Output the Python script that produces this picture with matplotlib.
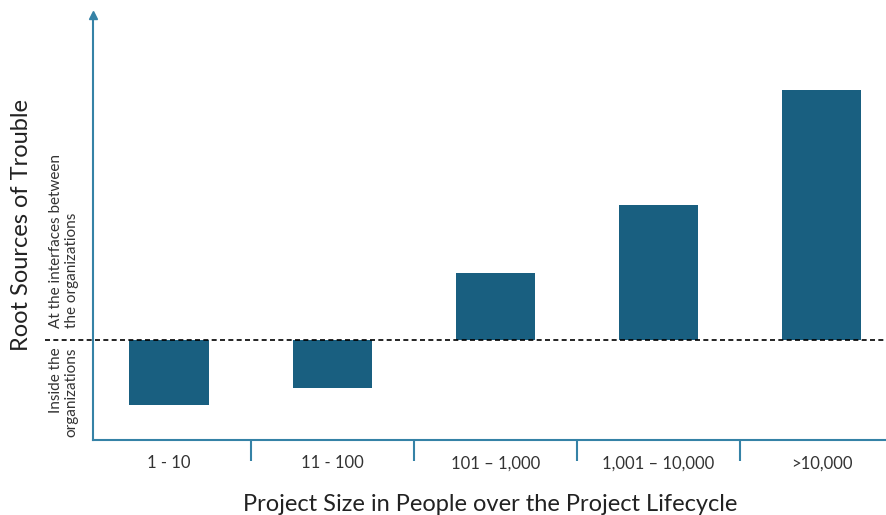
import matplotlib
matplotlib.use('Agg')
import matplotlib.pyplot as plt

# categorias y valores (relativos a la linea punteada)
categories = ['1 - 10', '11 - 100', '101 – 1,000', '1,001 – 10,000', '>10,000']
values = [-65, -48, 67, 135, 250]

bar_color = '#195f80'
axis_color = '#3582a6'

plt.rcParams['font.family'] = ['Lato', 'DejaVu Sans']

fig = plt.figure(figsize=(8.87, 5.15), dpi=100)
ax = fig.add_axes([0.1048, 0.1456, 0.8952, 0.825])

x = range(len(categories))
ax.bar(x, values, width=0.485, color=bar_color, zorder=2)
ax.set_xlim(-0.466, 4.40)
ax.set_ylim(-100, 325)

# ejes
for s in ['top', 'right']:
    ax.spines[s].set_visible(False)
ax.spines['left'].set_color(axis_color)
ax.spines['bottom'].set_color(axis_color)
ax.spines['left'].set_linewidth(1.5)
ax.spines['bottom'].set_linewidth(1.5)
ax.plot(0, 1, '^', color=axis_color, markersize=6, transform=ax.transAxes, clip_on=False)

ax.set_yticks([])
ax.set_xticks(list(x))
ax.set_xticklabels(categories, fontsize=12, color='#333333')
ax.tick_params(axis='x', length=0, pad=11)
# separadores entre categorias
ax.set_xticks([i + 0.5 for i in range(len(categories) - 1)], minor=True)
ax.tick_params(axis='x', which='minor', length=15, width=1.5, color=axis_color)

# linea punteada
ax.axhline(0, xmin=-0.06, xmax=1, color='black', linestyle=(0, (3, 2)), linewidth=1.2,
           clip_on=False, zorder=3)

ax.set_xlabel('Project Size in People over the Project Lifecycle', fontsize=17,
              color='#222222', labelpad=16)
fig.text(0.024, 0.563, 'Root Sources of Trouble', rotation=90, fontsize=17,
         color='#222222', ha='center', va='center')
fig.text(0.072, 0.363, 'At the interfaces between\nthe organizations', rotation=90,
         fontsize=11, color='#333333', ha='center', va='bottom', linespacing=1.15,
         multialignment='left')
fig.text(0.072, 0.326, 'Inside the\norganizations', rotation=90,
         fontsize=11, color='#333333', ha='center', va='top', linespacing=1.15,
         multialignment='right')

plt.savefig('out.png', dpi=100)
plt.close()
